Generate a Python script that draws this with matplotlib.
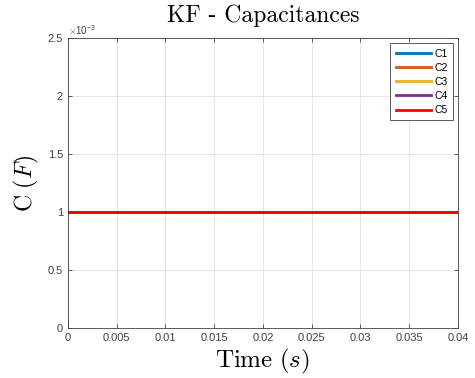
import matplotlib
matplotlib.use("Agg")
import matplotlib.pyplot as plt
from matplotlib.ticker import FuncFormatter

time = [0.0, 0.04]
c1 = [1e-3, 1e-3]
c2 = [1e-3, 1e-3]
c3 = [1e-3, 1e-3]
c4 = [1e-3, 1e-3]
c5 = [1e-3, 1e-3]
names = ["C1", "C2", "C3", "C4", "C5"]
colors = ["#0072BD", "#D95319", "#EDB120", "#7E2F8E", "#FF0000"]

plt.rcParams['mathtext.fontset'] = 'cm'
plt.rcParams['font.family'] = ['Liberation Sans', 'DejaVu Sans']

fig = plt.figure(figsize=(4.75, 3.78), dpi=100)
ax = fig.add_axes([0.143, 0.132, 0.821, 0.767])

for y, name, col in zip([c1, c2, c3, c4, c5], names, colors):
    ax.plot(time, y, color=col, lw=2, label=name)

ax.set_xlim(0, 0.04)
ax.set_ylim(0, 2.5e-3)
ax.set_xticks([0, 0.005, 0.01, 0.015, 0.02, 0.025, 0.03, 0.035, 0.04])
ax.set_xticklabels(["0", "0.005", "0.01", "0.015", "0.02", "0.025", "0.03", "0.035", "0.04"])
ax.set_yticks([0, 0.5e-3, 1e-3, 1.5e-3, 2e-3, 2.5e-3])
ax.yaxis.set_major_formatter(FuncFormatter(lambda v, p: "%g" % round(v * 1e3, 4)))
ax.text(0.0, 1.005, r"$\times\mathregular{10^{-3}}$", transform=ax.transAxes,
        fontsize=7, color="#404040", ha="left", va="bottom")

ax.grid(True, color="#e6e6e6", lw=0.7)
ax.tick_params(direction="in", top=True, right=True, labelsize=8,
               colors="#404040", length=3, width=0.6)
for s in ax.spines.values():
    s.set_color("#404040")
    s.set_linewidth(0.6)

ax.set_title("KF - Capacitances", fontsize=17, pad=12, fontfamily="cmr10")
ax.set_xlabel(r"$\mathrm{Time}\ (s)$", fontsize=18, labelpad=3)
ax.set_ylabel(r"$\mathrm{C}\ (F)$", fontsize=17, labelpad=5)

leg = ax.legend(loc="upper right", fontsize=7.5, fancybox=False,
                edgecolor="#404040", handlelength=3.4, labelspacing=0.4,
                borderpad=0.5, handletextpad=0.3, framealpha=1)
leg.get_frame().set_linewidth(0.6)

fig.savefig("out.png", dpi=100)
